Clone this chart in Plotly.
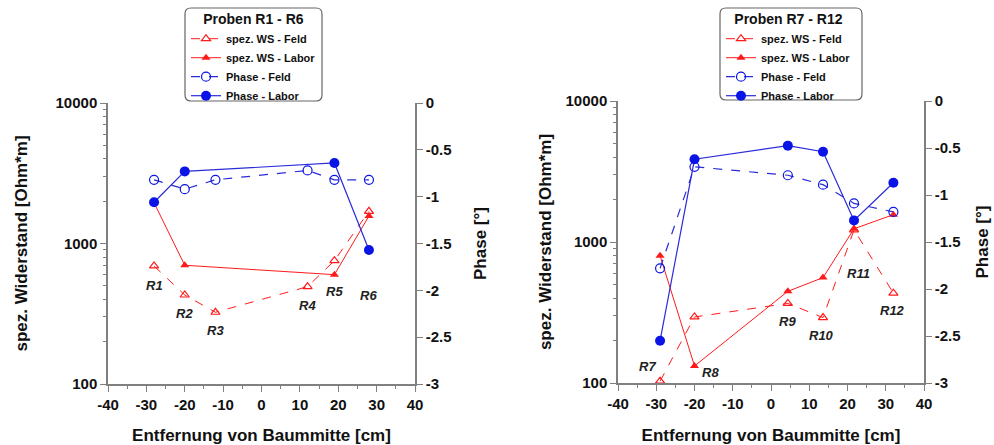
import math
import plotly.graph_objects as go

# ---------------- data ----------------
# Left chart: Proben R1 - R6
x_left = [-28, -20, -12, 12, 19, 28]
ws_feld_left = [692, 430, 324, 493, 755, 1695]
x_left_labor = [-28, -20, 19, 28]
ws_labor_left = [1950, 700, 600, 1570]
phase_feld_left = [-0.82, -0.92, -0.82, -0.72, -0.82, -0.82]
phase_labor_left = [-1.06, -0.73, -0.64, -1.57]
labels_left = ["R1", "R2", "R3", "R4", "R5", "R6"]
label_left_x = [-28, -20, -12, 12, 19, 28]
label_left_y = [499, 320, 242, 365, 452, 430]

# Right chart: Proben R7 - R12
x_right = [-29, -20, 4.4, 13.6, 21.7, 32]
ws_feld_right = [103, 294, 367, 291, 1220, 434]
ws_labor_right = [800, 132, 447, 559, 1241, 1563]
phase_feld_right = [-1.78, -0.70, -0.79, -0.89, -1.09, -1.18]
phase_labor_right = [-2.55, -0.62, -0.475, -0.54, -1.27, -0.87]
labels_right = ["R7", "R8", "R9", "R10", "R11", "R12"]
label_right_x = [-32.2, -15.8, 4.4, 13.3, 22.9, 31.8]
label_right_y = [132, 119, 275, 219, 600, 326]

x_ticks = [-40, -30, -20, -10, 0, 10, 20, 30, 40]
x_ticktext = ["-40", "-30", "-20", "-10", "0", "10", "20", "30", "40"]
ws_ticks = [100, 1000, 10000]
ws_minor = [200, 300, 400, 500, 600, 700, 800, 900,
            2000, 3000, 4000, 5000, 6000, 7000, 8000, 9000]
phase_ticks = [0, -0.5, -1, -1.5, -2, -2.5, -3]
phase_ticktext = ["0", "-0.5", "-1", "-1.5", "-2", "-2.5", "-3"]

RED = "#ff1a1a"
BLUE = "#2b2bd9"
BLUE_M = "#0a14e6"
AX = "#808080"
FONT = "Liberation Sans"

fig = go.Figure()


def add_series(xa, ya_ws, ya_ph, legend, xs_f, ws_f, xs_l, ws_l, ph_f, ph_l):
    fig.add_trace(go.Scatter(x=xs_f, y=ws_f, xaxis=xa, yaxis=ya_ws, mode="lines+markers",
                             name="spez. WS - Feld", legend=legend,
                             line=dict(color=RED, width=1, dash="dash"),
                             marker=dict(symbol="triangle-up-open", size=8, color=RED,
                                         line=dict(width=1.2))))
    fig.add_trace(go.Scatter(x=xs_l, y=ws_l, xaxis=xa, yaxis=ya_ws, mode="lines+markers",
                             name="spez. WS - Labor", legend=legend,
                             line=dict(color=RED, width=1),
                             marker=dict(symbol="triangle-up", size=8, color=RED)))
    fig.add_trace(go.Scatter(x=xs_f, y=ph_f, xaxis=xa, yaxis=ya_ph, mode="lines+markers",
                             name="Phase - Feld", legend=legend,
                             line=dict(color=BLUE, width=1.2, dash="dash"),
                             marker=dict(symbol="circle-open", size=9, color=BLUE_M,
                                         line=dict(width=1.2))))
    fig.add_trace(go.Scatter(x=xs_l, y=ph_l, xaxis=xa, yaxis=ya_ph, mode="lines+markers",
                             name="Phase - Labor", legend=legend,
                             line=dict(color=BLUE, width=1.2),
                             marker=dict(symbol="circle", size=10, color=BLUE_M)))


add_series("x", "y", "y2", "legend", x_left, ws_feld_left, x_left_labor, ws_labor_left,
           phase_feld_left, phase_labor_left)
add_series("x2", "y3", "y4", "legend2", x_right, ws_feld_right, x_right, ws_labor_right,
           phase_feld_right, phase_labor_right)

tickfont = dict(family=FONT, size=15, color="#111", weight="bold")
titlefont = dict(family=FONT, size=17, color="#111", weight="bold")


def xaxis_cfg(domain, anchor):
    return dict(domain=domain, anchor=anchor, range=[-40, 40], tickvals=x_ticks,
                ticktext=x_ticktext, automargin=False,
                ticks="outside", ticklen=6, tickcolor=AX, showline=True, linecolor=AX,
                linewidth=1.5, showgrid=False, zeroline=False, tickfont=tickfont,
                minor=dict(dtick=5, ticks="outside", ticklen=3, tickcolor=AX),
                title=dict(text="Entfernung von Baummitte [cm]", font=titlefont, standoff=19))


def ws_cfg(domain, anchor, standoff):
    return dict(domain=domain, anchor=anchor, type="log", range=[2, 4], tickvals=ws_ticks,
                ticktext=[str(v) for v in ws_ticks], ticks="outside", ticklen=6,
                automargin=False,
                tickcolor=AX, showline=True, linecolor=AX, linewidth=1.5, showgrid=False,
                zeroline=False, tickfont=tickfont,
                minor=dict(tickvals=ws_minor, ticks="outside", ticklen=3, tickcolor=AX),
                title=dict(text="spez. Widerstand [Ohm*m]", font=titlefont, standoff=standoff))


def ph_cfg(anchor, overlay, standoff):
    return dict(anchor=anchor, overlaying=overlay, side="right", range=[-3, 0],
                tickvals=phase_ticks, ticktext=phase_ticktext, automargin=False,
                ticks="outside", ticklen=6, tickcolor=AX, showline=True, linecolor=AX,
                linewidth=1.5, showgrid=False, zeroline=False, tickfont=tickfont,
                title=dict(text="Phase [°]", font=titlefont, standoff=standoff))


W, H = 994, 445
dom_xl = [108 / W, 415 / W]
dom_yl = [1 - 384 / H, 1 - 103 / H]
dom_xr = [618 / W, 924 / W]
dom_yr = [1 - 383 / H, 1 - 101 / H]

legfont = dict(family=FONT, size=11, color="#111", weight="bold")
legtitle = dict(family=FONT, size=14, color="#111", weight="bold")

fig.update_layout(
    width=W, height=H, margin=dict(l=0, r=0, t=0, b=0, autoexpand=False),
    paper_bgcolor="white", plot_bgcolor="white",
    xaxis=xaxis_cfg(dom_xl, "y"),
    yaxis=ws_cfg(dom_yl, "x", 24),
    yaxis2=ph_cfg("x", "y", 23),
    xaxis2=xaxis_cfg(dom_xr, "y3"),
    yaxis3=ws_cfg(dom_yr, "x2", 10),
    yaxis4=ph_cfg("x2", "y3", 16),
    legend=dict(x=186 / W, y=1 - 6 / H, xanchor="left", yanchor="top",
                bgcolor="rgba(0,0,0,0)", borderwidth=0, font=legfont,
                title=dict(text="Proben R1 - R6", font=legtitle, side="top center"),
                itemwidth=30, tracegroupgap=0),
    legend2=dict(x=721 / W, y=1 - 6 / H, xanchor="left", yanchor="top",
                 bgcolor="rgba(0,0,0,0)", borderwidth=0, font=legfont,
                 title=dict(text="Proben R7 - R12", font=legtitle, side="top center"),
                 itemwidth=30, tracegroupgap=0),
    showlegend=True,
)


def rounded_box(x0, y0, x1, y1, r):
    def P(px, py):
        return f"{px / W},{1 - py / H}"
    return (f"M {P(x0 + r, y0)} L {P(x1 - r, y0)} Q {P(x1, y0)} {P(x1, y0 + r)} "
            f"L {P(x1, y1 - r)} Q {P(x1, y1)} {P(x1 - r, y1)} L {P(x0 + r, y1)} "
            f"Q {P(x0, y1)} {P(x0, y1 - r)} L {P(x0, y0 + r)} Q {P(x0, y0)} {P(x0 + r, y0)} Z")


for box in [(185, 8, 322, 101), (720, 8, 862, 100)]:
    fig.add_shape(type="path", xref="paper", yref="paper", path=rounded_box(*box, 6),
                  line=dict(color="#666", width=1.2), fillcolor="rgba(0,0,0,0)", layer="above")

labfont = dict(family=FONT, size=13, color="#222", weight="bold", style="italic")
for t, xv, yv in zip(labels_left, label_left_x, label_left_y):
    fig.add_annotation(x=xv, y=math.log10(yv), xref="x", yref="y", text=t,
                       showarrow=False, font=labfont)
for t, xv, yv in zip(labels_right, label_right_x, label_right_y):
    fig.add_annotation(x=xv, y=math.log10(yv), xref="x2", yref="y3", text=t,
                       showarrow=False, font=labfont)

fig.write_html("out.html", config={"displayModeBar": False},
               post_script="document.body.style.margin='0';document.body.style.overflow='hidden';")
